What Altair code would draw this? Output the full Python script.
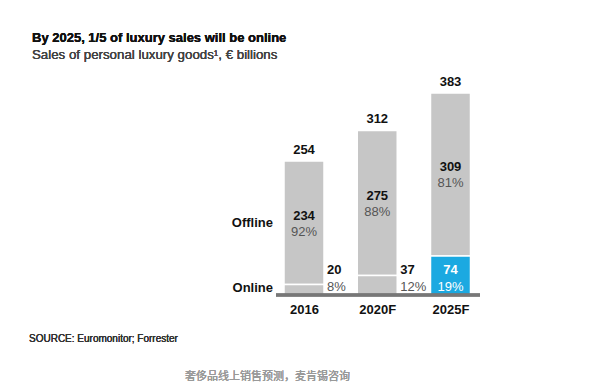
import altair as alt
import pandas as pd

# ---- data ----
years = ["2016", "2020F", "2025F"]
online = [20, 37, 74]
offline = [234, 275, 309]
total = [254, 312, 383]
online_pct = ["8%", "12%", "19%"]
offline_pct = ["92%", "88%", "81%"]
emphasis = ["base", "base", "highlight"]
row_labels = ["Offline", "Online"]

title_text = "By 2025, 1/5 of luxury sales will be online"
subtitle_text = "Sales of personal luxury goods\u00b9, \u20ac billions"
source_text = "SOURCE: Euromonitor; Forrester"
caption_text = "奢侈品线上销售预测，麦肯锡咨询"

df = pd.DataFrame({
    "year": years,
    "online": online,
    "offline": offline,
    "total": total,
    "online_pct": online_pct,
    "offline_pct": offline_pct,
    "emph": emphasis,
})
df["offline_mid"] = df["online"] + df["offline"] / 2
df["zero"] = 0

FONT = "Liberation Sans"
GRAY = "#c6c6c6"
BLUE = "#1ba9e1"

x = alt.X(
    "year:N",
    scale=alt.Scale(type="point", domain=years, range=[296, 442.5], padding=0),
    axis=alt.Axis(title=None, labelFontWeight="bold", labelFontSize=13, labelColor="#111",
                  labelFont=FONT, domain=False, ticks=False, labelPadding=8, labelAngle=0),
)
yscale = alt.Scale(domain=[0, 383], nice=False, zero=True)

base = alt.Chart(df)

offline_bar = base.mark_bar(size=40, color=GRAY, stroke="white", strokeWidth=1.5).encode(
    x=x,
    y=alt.Y("total:Q", scale=yscale, axis=None),
    y2="online:Q",
)
online_bar = base.mark_bar(size=40, stroke="white", strokeWidth=1.5).encode(
    x=x,
    y=alt.Y("online:Q", scale=yscale, axis=None),
    y2="zero:Q",
    color=alt.Color("emph:N", scale=alt.Scale(domain=["base", "highlight"], range=[GRAY, BLUE]), legend=None),
)

total_lbl = base.mark_text(font=FONT, fontSize=13, fontWeight="bold", color="#111",
                           baseline="bottom", dy=-4).encode(
    x=x, y=alt.Y("total:Q", scale=yscale, axis=None), text="total:Q")

off_val = base.mark_text(font=FONT, fontSize=13, fontWeight="bold", color="#111",
                         baseline="middle", dy=-7).encode(
    x=x, y=alt.Y("offline_mid:Q", scale=yscale, axis=None), text="offline:Q")
off_pct = base.mark_text(font=FONT, fontSize=13, fontWeight="normal", color="#555",
                         baseline="middle", dy=9).encode(
    x=x, y=alt.Y("offline_mid:Q", scale=yscale, axis=None), text="offline_pct:N")

outside = base.transform_filter(alt.datum.emph == "base")
inside = base.transform_filter(alt.datum.emph == "highlight")

on_val_out = outside.mark_text(font=FONT, fontSize=13, fontWeight="bold", color="#111",
                               baseline="middle", align="left", dx=23, dy=-25).encode(
    x=x, y=alt.Y("zero:Q", scale=yscale, axis=None), text="online:Q")
on_pct_out = outside.mark_text(font=FONT, fontSize=13, fontWeight="normal", color="#555",
                               baseline="middle", align="left", dx=23, dy=-8).encode(
    x=x, y=alt.Y("zero:Q", scale=yscale, axis=None), text="online_pct:N")
on_val_in = inside.mark_text(font=FONT, fontSize=13, fontWeight="bold", color="white",
                             baseline="middle", align="center", dy=-25).encode(
    x=x, y=alt.Y("zero:Q", scale=yscale, axis=None), text="online:Q")
on_pct_in = inside.mark_text(font=FONT, fontSize=13, fontWeight="normal", color="white",
                             baseline="middle", align="center", dy=-8).encode(
    x=x, y=alt.Y("zero:Q", scale=yscale, axis=None), text="online_pct:N")

axis_line = base.mark_rule(color="#777", strokeWidth=3).encode(
    x=alt.value(268), x2=alt.value(472), y=alt.value(202))

lab_df = pd.DataFrame({"label": row_labels, "yy": [130, 195]})
row_lbls = alt.Chart(lab_df).mark_text(font=FONT, fontSize=13, fontWeight="bold", color="#111",
                                        align="right", baseline="middle").encode(
    x=alt.value(265), y=alt.Y("yy:Q", scale=None), text="label:N")

title_m = base.mark_text(text=title_text, font=FONT, fontSize=13, fontWeight="bold", color="#111",
                         align="left", baseline="middle").encode(x=alt.value(24), y=alt.value(-55))
subtitle_m = base.mark_text(text=subtitle_text, font=FONT, fontSize=13.3, fontWeight="normal", color="#444",
                            align="left", baseline="middle").encode(x=alt.value(24), y=alt.value(-38))
source_m = base.mark_text(text=source_text, font=FONT, fontSize=10, fontWeight="normal", color="#333",
                          align="left", baseline="middle").encode(x=alt.value(21), y=alt.value(246))
caption_m = base.mark_text(text=caption_text, font="Noto Sans CJK SC", fontSize=11, fontWeight="normal",
                           color="#999", align="center", baseline="middle").encode(
    x=alt.value(259.5), y=alt.value(284))

chart = alt.layer(
    offline_bar, online_bar, axis_line, total_lbl, off_val, off_pct,
    on_val_out, on_pct_out, on_val_in, on_pct_in, row_lbls,
    title_m, subtitle_m, source_m, caption_m,
).properties(
    width=584, height=202,
    autosize=alt.AutoSizeParams(type="none"),
    padding={"left": 0, "top": 85, "right": 0, "bottom": 90},
    background="white",
).configure_view(strokeWidth=0)

chart.save("out.html", embed_options={"renderer": "svg", "actions": False})
